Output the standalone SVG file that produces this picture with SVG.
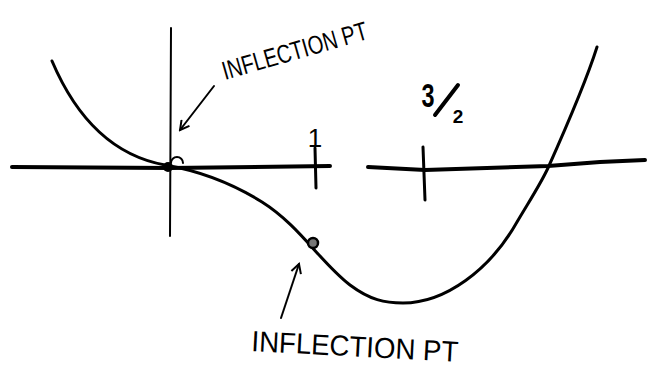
<svg xmlns="http://www.w3.org/2000/svg" width="648" height="369" viewBox="0 0 648 369">
<style>
.ink{fill:none;stroke:#000;stroke-linecap:round;stroke-linejoin:round}
.lbl{font-family:"Liberation Sans",Arial,sans-serif;fill:#000}
</style>
<defs>
<marker id="ah" viewBox="0 0 12 12" refX="10" refY="6" markerWidth="12" markerHeight="12" markerUnits="userSpaceOnUse" orient="auto">
<path d="M1,1 L10,6 L1,11" fill="none" stroke="#000" stroke-width="2"/>
</marker>
</defs>
<rect width="648" height="369" fill="#fff"/>
<g id="axes">
<path class="ink" stroke-width="4" d="M12,167 L170,168 L330,166"/>
<path class="ink" stroke-width="4" d="M368,167 L425,170 L548,166 L600,162 L645,160"/>
<path class="ink" stroke-width="2" d="M171,28 L170,236"/>
<path class="ink" stroke-width="3" d="M315,148 L316,188"/>
<path class="ink" stroke-width="3" d="M423,147 L425,200"/>
</g>
<g id="curve">
<path class="ink" stroke-width="3" d="M52,61 C75,115 110,155 165,165 C200,171 230,182 262,202 C300,226 320,262 350,285 C370,300 385,303 403,303 C445,303 490,270 517,222 C530,200 540,185 548,168 C565,130 585,85 597,47"/>
<path class="ink" stroke-width="2" d="M171,163 A6,6 0 1 1 183,163"/>
<circle cx="168" cy="167" r="5" fill="#000"/>
<circle cx="313" cy="243" r="5" fill="#777" stroke="#000" stroke-width="2.5"/>
</g>
<g id="ticklabels">
<text class="lbl" x="315" y="147" font-size="26" text-anchor="middle">1</text>
<text class="lbl" x="428" y="107" font-size="34" text-anchor="middle" textLength="13" lengthAdjust="spacingAndGlyphs" font-weight="bold">3</text>
<path class="ink" stroke-width="4" d="M458,85 L435,115"/>
<text class="lbl" x="458" y="123" font-size="19" text-anchor="middle" font-weight="bold">2</text>
</g>
<g id="label-top">
<text class="lbl" font-size="26" transform="translate(225,80) rotate(-16)" textLength="150" lengthAdjust="spacingAndGlyphs">INFLECTION PT</text>
<path class="ink" stroke-width="2" d="M214,86 L180,130" marker-end="url(#ah)"/>
</g>
<g id="label-bottom">
<text class="lbl" font-size="29" transform="translate(251,351) rotate(3)" textLength="207" lengthAdjust="spacingAndGlyphs">INFLECTION PT</text>
<path class="ink" stroke-width="2" d="M281,318 L299,264" marker-end="url(#ah)"/>
</g>
</svg>
